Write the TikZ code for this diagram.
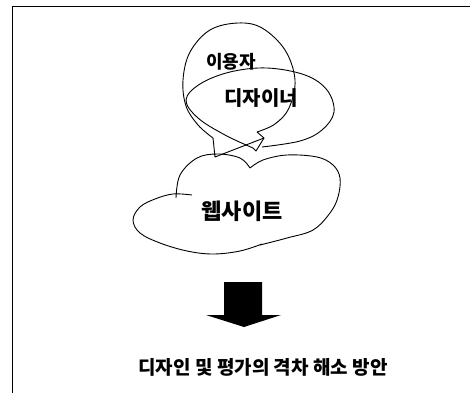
\documentclass[tikz,border=0pt]{standalone}
\usepackage{fontspec}
\newfontfamily\krfont{Noto Sans CJK KR}[BoldFont={Noto Sans CJK KR Black}]
\usepackage{tikz}
\usetikzlibrary{shapes.geometric, arrows}
\tikzstyle{word} = [font=\krfont\bfseries, text centered, inner sep=0pt]
\tikzstyle{outline} = [line width=0.9pt, line join=round]

\begin{document}
\begin{tikzpicture}[x=1pt, y=-1pt]
        \useasboundingbox (0,0) rectangle (470,393);
        % frame
        \draw [line width=0.8pt] (470,6) -- (12,6) -- (12,393);

        % two speech bubbles
        \draw [outline] plot[smooth, tension=0.6] coordinates {(257,132) (275,124) (289,108) (295,80) (285,50) (262,28) (238,23) (210,30) (190,52) (183,80) (186,106) (198,125) (213,138)} -- (215,157) -- (264,138) -- (257,132);
        \draw [outline] (264,138) -- (256,151) -- (253,148) plot[smooth, tension=0.6] coordinates {(253,148) (225,135) (198,118) (186,100) (200,84) (230,72) (267,68) (305,75) (327,90) (334,112) (322,130) (300,141) (262,147)};
        \node (user) [word, font=\krfont\bfseries\fontsize{18}{18}\selectfont] at (231,62) {이용자};
        \node (designer) [word, font=\krfont\bfseries\fontsize{20}{20}\selectfont] at (261,98) {디자이너};

        % cloud
        \draw [outline] plot[smooth, tension=0.6] coordinates {(176,198) (180,175) (197,158) (218,154) (240,158) (250,168)};
        \draw [outline] plot[smooth, tension=0.6] coordinates {(250,168) (263,160) (287,155) (317,157) (333,165) (340,178) (338,197) (330,213) (313,230) (287,238) (260,245)};
        \draw [outline] plot[smooth, tension=0.6] coordinates {(262,244) (240,251) (213,254) (187,251) (160,243) (140,233) (133,220) (140,207) (155,199) (173,194) (192,195)};
        \node (website) [word, font=\krfont\bfseries\fontsize{22}{22}\selectfont] at (242,211) {웹사이트};

        % block arrow
        \fill (224,282) -- (262,282) -- (262,315) -- (281,315) -- (244,327) -- (206,315) -- (224,315) -- cycle;

        \node (solution) [word, font=\krfont\bfseries\fontsize{19}{19}\selectfont] at (263,367) {디자인 및 평가의 격차 해소 방안};
    \end{tikzpicture}
\end{document}
